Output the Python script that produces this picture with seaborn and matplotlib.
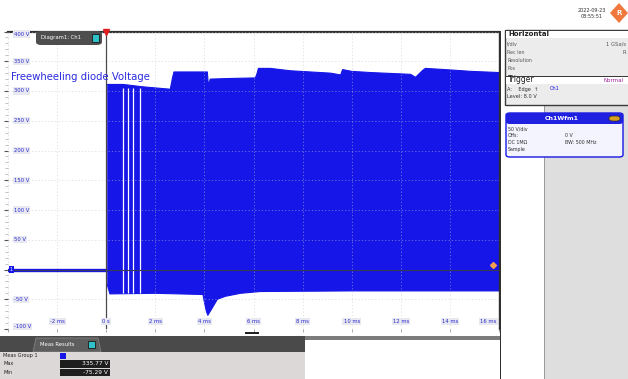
import numpy as np
import matplotlib
matplotlib.use("Agg")
import matplotlib.pyplot as plt
import seaborn as sns
from matplotlib.patches import Rectangle, FancyBboxPatch, Polygon

# envelope of the switching waveform (ms, V)
pre_t = [-4.0, 0.0]
pre_v = [0.0, 0.0]

upper_t = [0.04, 0.69, 1.5, 2.61, 2.70, 2.76, 4.12, 4.16, 4.24, 5.0, 6.08, 6.15, 6.2,
           6.69, 7.5, 9.14, 9.55, 9.63, 10.0, 10.78, 12.4, 12.6, 12.9, 13.0, 13.8, 14.86, 16.0]
upper_v = [311, 311, 307, 303, 322, 332, 332, 310, 320, 321, 322, 330, 338,
           338, 334, 330, 327, 336, 333, 331, 328, 323, 335, 338, 336, 333, 331]

lower_t = [0.04, 0.15, 2.0, 3.94, 4.0, 4.08, 4.14, 4.3, 4.53, 4.86, 5.47, 6.29, 10.0, 16.0]
lower_v = [-25, -41, -40, -42, -55, -70, -77, -66, -50, -45, -40, -37, -36, -36]

gap_t = [0.69, 0.90, 1.10, 1.39]   # short idle gaps in the burst
trigger_level = 8

y_ticks = [400, 350, 300, 250, 200, 150, 100, 50, -50, -100]
y_labels = ["400 V", "350 V", "300 V", "250 V", "200 V", "150 V", "100 V", "50 V", "-50 V", "-100 V"]
x_ticks = [-2, 0, 2, 4, 6, 8, 10, 12, 14, 16]
x_labels = ["-2 ms", "0 s", "2 ms", "4 ms", "6 ms", "8 ms", "10 ms", "12 ms", "14 ms", "16 ms"]

meas_names = ["Max", "Min"]
meas_values = ["335.77 V", "-75.29 V"]

W, H = 628, 379
BLUE = "#1616e8"

sns.set_style("white")
plt.rcParams['font.family'] = ['DejaVu Sans']

fig = plt.figure(figsize=(W / 100, H / 100), dpi=100)
fig.patch.set_facecolor("white")


def box(x, y, w, h, **kw):
    # rectangle in screen pixels (top-left origin)
    r = Rectangle((x / W, 1 - (y + h) / H), w / W, h / H, transform=fig.transFigure, **kw)
    fig.add_artist(r)
    return r


def txt(x, y, s, **kw):
    fig.text(x / W, 1 - y / H, s, **kw)


ax = fig.add_axes([8 / W, 1 - 329 / H, (499 - 8) / W, (329 - 31.5) / H])
ax.set_xlim(-4, 16)
ax.set_ylim(-100, 400)

# waveform
sns.lineplot(x=pre_t, y=pre_v, ax=ax, color=BLUE, lw=2.4, zorder=3)
ax.fill(np.r_[upper_t, lower_t[::-1]], np.r_[upper_v, lower_v[::-1]], color=BLUE, lw=0, zorder=2)
sns.lineplot(x=upper_t, y=upper_v, ax=ax, color=BLUE, lw=0.8, zorder=2)
sns.lineplot(x=lower_t, y=lower_v, ax=ax, color=BLUE, lw=0.8, zorder=2)
ax.vlines(gap_t, -40, 305, color="white", lw=0.9, zorder=3)

# grid + reference lines
ax.set_xticks(np.arange(-4, 16.1, 2))
ax.set_yticks(np.arange(-100, 401, 50))
ax.set_yticks(np.arange(-100, 401, 10), minor=True)
ax.set_xticklabels([])
ax.set_yticklabels([])
ax.grid(True, color="#c0c0d0", lw=0.6, ls=(0, (1.5, 2.5)), alpha=0.55, zorder=4)
ax.set_axisbelow(False)
ax.axhline(0, color="#3a3a55", lw=0.8, zorder=5)
ax.axvline(0, color="#4a4a4a", lw=0.9, zorder=5)
ax.tick_params(axis="y", which="major", direction="out", length=3, width=0.8, color="#555555", left=True)
ax.tick_params(axis="y", which="minor", direction="out", length=2, width=0.5, color="#aaaaaa", left=True)
ax.tick_params(axis="x", which="major", direction="out", length=2, width=0.5, color="#888888", bottom=True)
for s in ["left", "bottom"]:
    ax.spines[s].set_visible(False)
ax.spines["top"].set_color("#303030")
ax.spines["top"].set_linewidth(1.6)
ax.spines["right"].set_color("#303030")
ax.spines["right"].set_linewidth(1.0)

for v, lab in zip(y_ticks, y_labels):
    va = "top" if v == y_ticks[0] else ("bottom" if v == y_ticks[-1] else "center")
    ax.text(0.012, v, lab, transform=ax.get_yaxis_transform(), fontsize=3.8, color="#2a2ad0",
            va=va, ha="left", zorder=6,
            bbox=dict(boxstyle="square,pad=0.2", fc="#e8e8f0", ec="none"))
for t, lab in zip(x_ticks, x_labels):
    ha = "right" if t == x_ticks[-1] else "center"
    ax.text(t - (0.1 if ha == "right" else 0), 0.018, lab, transform=ax.get_xaxis_transform(),
            fontsize=3.8, color="#2a2ad0", va="bottom", ha=ha, zorder=6,
            bbox=dict(boxstyle="square,pad=0.2", fc="#e8e8f0", ec="none"))

# channel marker at 0 V, trigger markers
ax.text(0.004, 0, "1", transform=ax.get_yaxis_transform(), fontsize=3.5, color="white",
        va="center", ha="left", zorder=7,
        bbox=dict(boxstyle="square,pad=0.25", fc=BLUE, ec="none"))
ax.plot([0], [400], marker="v", color="#e02020", ms=4, clip_on=False, zorder=8)
ax.plot([15.75], [trigger_level], marker="D", color="#f0a050", ms=3, clip_on=False, zorder=8)

ax.text(0.006, 0.848, "Freewheeling diode Voltage", transform=ax.transAxes, fontsize=7.3,
        color="#2a2ae0", va="center", ha="left", zorder=7)

# diagram tab
fig.add_artist(FancyBboxPatch((36 / W, 1 - 45 / H), 66 / W, 14 / H, boxstyle="round,pad=0,rounding_size=0.008",
                              transform=fig.transFigure, fc="#4e4e4e", ec="none"))
txt(41, 38, "Diagram1: Ch1", fontsize=3.8, color="white", va="center")
box(92, 34, 7, 8, fc="#30c0c8", ec="#1a1a1a", lw=0.6)

# below the plot
box(0, 336, 500, 4, fc="#7c7c7c", ec="none")
box(245, 332, 14, 1.6, fc="#222222", ec="none")
box(0, 336, 305, 16, fc="#4a4a4a", ec="none")
fig.add_artist(Polygon([(33 / W, 1 - 352 / H), (36 / W, 1 - 338 / H), (98 / W, 1 - 338 / H), (101 / W, 1 - 352 / H)],
                       closed=True, transform=fig.transFigure, fc="#5e5e5e", ec="#8a8a8a", lw=0.5))
txt(40, 345, "Meas Results", fontsize=3.8, color="white", va="center")
box(88, 341, 7, 7, fc="#30c0c8", ec="#1a1a1a", lw=0.6)
box(0, 352, 305, 27, fc="#dcd8d8", ec="none")
txt(3, 355.5, "Meas Group 1", fontsize=3.6, color="#202020", va="center")
box(60, 352.5, 6, 6, fc=BLUE, ec="none")
for i, (n, val) in enumerate(zip(meas_names, meas_values)):
    yy = 360 + i * 8.5
    txt(3, yy + 3.5, n, fontsize=3.6, color="#202020", va="center")
    box(60, yy, 50, 7.5, fc="#1e1e1e", ec="none")
    txt(108, yy + 3.8, val, fontsize=4.2, color="white", va="center", ha="right")

# right side panel
box(500, 31, 1.2, 348, fc="#303030", ec="none")
box(544, 105, 84, 274, fc="#dedede", ec="none")
box(543.5, 105, 1, 274, fc="#9a9a9a", ec="none")
box(505, 30, 125, 75, fc="#ececec", ec="#3a3a3a", lw=1.0)
box(506, 31, 122, 7, fc="white", ec="none")
txt(508, 34.5, "Horizontal", fontsize=5, color="#202020", va="center", weight="bold")
for i, (l, r) in enumerate([("t/div", "1 GSa/s"), ("Rec len", "R"), ("Resolution", ""), ("Pos", "")]):
    txt(507, 44 + i * 8, l, fontsize=3.4, color="#555555", va="center")
    if r:
        txt(626, 44 + i * 8, r, fontsize=3.8, color="#555555", va="center", ha="right")
box(506, 76, 122, 8, fc="white", ec="none")
box(506, 76, 122, 0.8, fc="#3a3a3a", ec="none")
txt(508, 80, "Trigger", fontsize=5.5, color="#202020", va="center")
txt(604, 80, "Normal", fontsize=4, color="#a020a0", va="center")
txt(507, 89, "A:    Edge  \u2191", fontsize=3.6, color="#303030", va="center")
txt(550, 89, "Ch1", fontsize=3.6, color=BLUE, va="center")
txt(507, 97, "Level: 8.0 V", fontsize=3.6, color="#303030", va="center")

fig.add_artist(FancyBboxPatch((506 / W, 1 - 157 / H), 117 / W, 44 / H, boxstyle="round,pad=0,rounding_size=0.006",
                              transform=fig.transFigure, fc="#f4f4ff", ec=BLUE, lw=1.0))
fig.add_artist(FancyBboxPatch((506 / W, 1 - 124 / H), 117 / W, 11 / H, boxstyle="round,pad=0,rounding_size=0.006",
                              transform=fig.transFigure, fc="#2020e0", ec="none"))
txt(562, 118.5, "Ch1Wfm1", fontsize=4.5, color="white", va="center", ha="center", weight="bold")
fig.add_artist(FancyBboxPatch((609 / W, 1 - 121 / H), 11 / W, 5 / H, boxstyle="round,pad=0,rounding_size=0.006",
                              transform=fig.transFigure, fc="#d8a020", ec="#303030", lw=0.5))
txt(508, 129, "50 V/div", fontsize=3.4, color="#303030", va="center")
txt(508, 136, "Offs:", fontsize=3.4, color="#303030", va="center")
txt(565, 136, "0 V", fontsize=3.4, color="#303030", va="center")
txt(508, 143, "DC 1M\u03a9", fontsize=3.4, color="#303030", va="center")
txt(565, 143, "BW: 500 MHz", fontsize=3.4, color="#303030", va="center")
txt(508, 150, "Sample", fontsize=3.4, color="#303030", va="center")

# date + logo
txt(592, 10, "2022-09-23", fontsize=3.5, color="#303030", va="center", ha="center")
txt(592, 17, "08:55:51", fontsize=3.5, color="#303030", va="center", ha="center")
fig.add_artist(Polygon([(619 / W, 1 - 3 / H), (628 / W, 1 - 13 / H), (619 / W, 1 - 23 / H), (610 / W, 1 - 13 / H)],
                       closed=True, transform=fig.transFigure, fc="#f0783c", ec="none"))
txt(619, 13, "R", fontsize=5, color="white", va="center", ha="center", weight="bold")

fig.savefig("out.png", dpi=100)
